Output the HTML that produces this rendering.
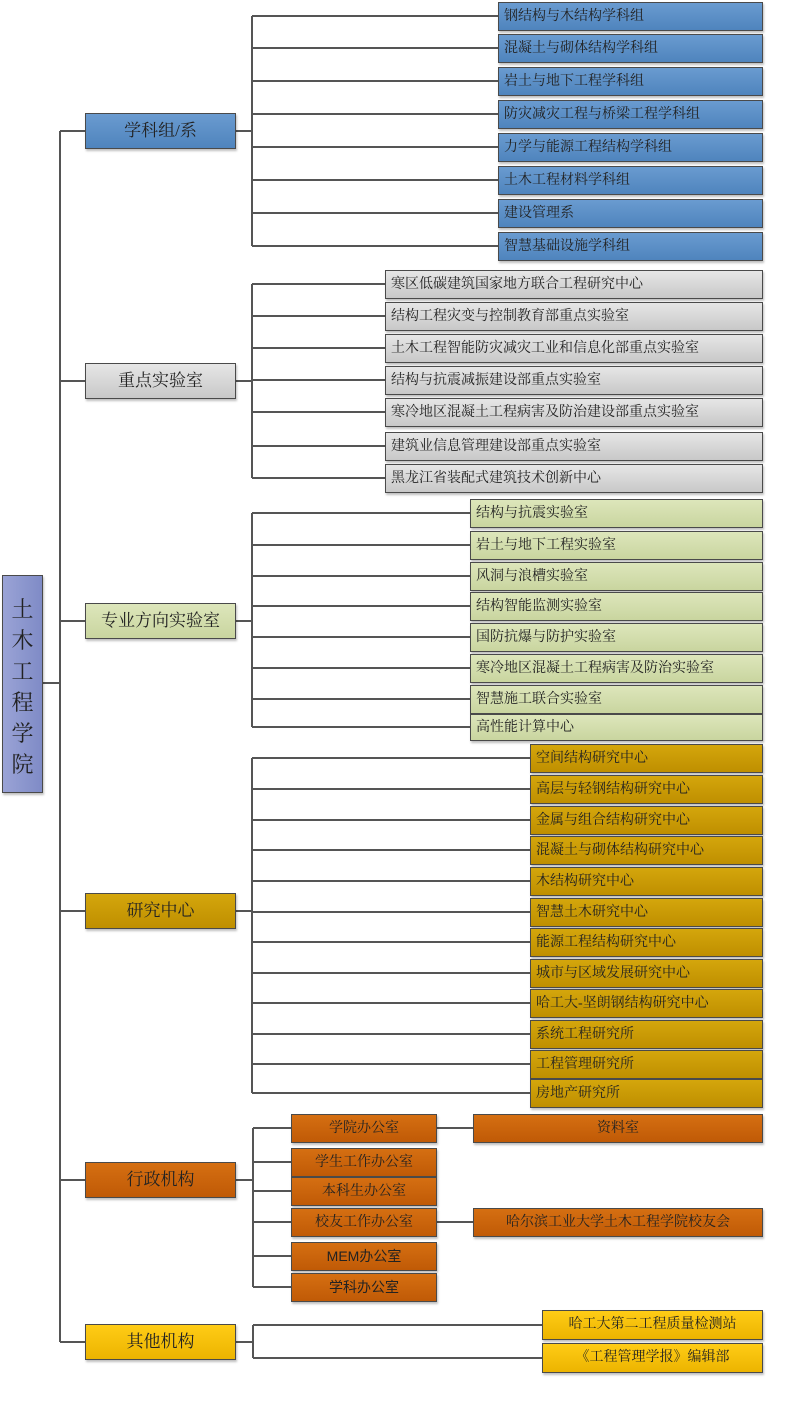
<!DOCTYPE html>
<html><head><meta charset="utf-8"><style>
body{margin:0;width:800px;height:1401px;background:#fff;position:relative;overflow:hidden;font-family:"Liberation Serif","Noto Serif CJK SC",serif;}
.b{position:absolute;box-sizing:border-box;border:1px solid #4a4a4a;box-shadow:1px 2px 2px rgba(0,0,0,.25);color:#222;white-space:nowrap;overflow:hidden;}
.c{font-size:14px;padding-left:5px;line-height:27px;height:29px;}
.L{font-size:17px;text-align:center;line-height:34px;height:36px;left:85px;width:151px;}
.blue{background:linear-gradient(#6a9bd0,#4f84bd);}
.gray{background:linear-gradient(#e6e6e6,#c8c8c8);}
.green{background:linear-gradient(#dde6bb,#c9d59f);}
.gold{background:linear-gradient(#d4a60c,#bf8f00);}
.org{background:linear-gradient(#d56f12,#c05a06);}
.yel{background:linear-gradient(#ffcc16,#ecb400);}
.ctr{text-align:center;padding-left:0;}
svg{position:absolute;left:0;top:0;}
</style></head><body>
<svg width="800" height="1401" stroke="#555" stroke-width="2" fill="none">
<path d="M42 683H60M60 131V1342M60 131H85M60 381H85M60 621H85M60 911H85M60 1180H85M60 1342H85"/>
<path d="M235 131H252M252 16V246M252 16H498M252 48H498M252 81H498M252 114H498M252 147H498M252 180H498M252 213H498M252 246H498"/>
<path d="M235 381H252M252 284V478M252 284H385M252 316H385M252 348H385M252 380H385M252 412H385M252 446H385M252 478H385"/>
<path d="M235 621H252M252 513V727M252 513H470M252 545H470M252 576H470M252 606H470M252 637H470M252 668H470M252 699H470M252 727H470"/>
<path d="M235 911H252M252 758V1093M252 758H530M252 789H530M252 820H530M252 850H530M252 881H530M252 912H530M252 942H530M252 973H530M252 1003H530M252 1034H530M252 1064H530M252 1093H530"/>
<path d="M235 1180H253M253 1128V1287M253 1128H291M253 1162H291M253 1191H291M253 1222H291M253 1256H291M253 1287H291M436 1128H473M436 1222H473"/>
<path d="M235 1342H253M253 1325V1358M253 1325H542M253 1358H542"/>
</svg>
<div class="b" style="left:2px;top:575px;width:41px;height:218px;background:linear-gradient(90deg,#9aa3d6,#7f8bc6);font-size:22px;line-height:31px;text-align:center;white-space:normal;padding-top:18px;">土<br>木<br>工<br>程<br>学<br>院</div>

<div class="b L blue" style="top:113px">学科组/系</div>
<div class="b L gray" style="top:363px">重点实验室</div>
<div class="b L green" style="top:603px">专业方向实验室</div>
<div class="b L gold" style="top:893px">研究中心</div>
<div class="b L org" style="top:1162px">行政机构</div>
<div class="b L yel" style="top:1324px">其他机构</div>

<div class="b c blue" style="left:498px;width:265px;top:2px">钢结构与木结构学科组</div>
<div class="b c blue" style="left:498px;width:265px;top:34px">混凝土与砌体结构学科组</div>
<div class="b c blue" style="left:498px;width:265px;top:67px">岩土与地下工程学科组</div>
<div class="b c blue" style="left:498px;width:265px;top:100px">防灾减灾工程与桥梁工程学科组</div>
<div class="b c blue" style="left:498px;width:265px;top:133px">力学与能源工程结构学科组</div>
<div class="b c blue" style="left:498px;width:265px;top:166px">土木工程材料学科组</div>
<div class="b c blue" style="left:498px;width:265px;top:199px">建设管理系</div>
<div class="b c blue" style="left:498px;width:265px;top:232px">智慧基础设施学科组</div>

<div class="b c gray" style="left:385px;width:378px;top:270px">寒区低碳建筑国家地方联合工程研究中心</div>
<div class="b c gray" style="left:385px;width:378px;top:302px">结构工程灾变与控制教育部重点实验室</div>
<div class="b c gray" style="left:385px;width:378px;top:334px">土木工程智能防灾减灾工业和信息化部重点实验室</div>
<div class="b c gray" style="left:385px;width:378px;top:366px">结构与抗震减振建设部重点实验室</div>
<div class="b c gray" style="left:385px;width:378px;top:398px">寒冷地区混凝土工程病害及防治建设部重点实验室</div>
<div class="b c gray" style="left:385px;width:378px;top:432px">建筑业信息管理建设部重点实验室</div>
<div class="b c gray" style="left:385px;width:378px;top:464px">黑龙江省装配式建筑技术创新中心</div>

<div class="b c green" style="left:470px;width:293px;top:499px">结构与抗震实验室</div>
<div class="b c green" style="left:470px;width:293px;top:531px">岩土与地下工程实验室</div>
<div class="b c green" style="left:470px;width:293px;top:562px">风洞与浪槽实验室</div>
<div class="b c green" style="left:470px;width:293px;top:592px">结构智能监测实验室</div>
<div class="b c green" style="left:470px;width:293px;top:623px">国防抗爆与防护实验室</div>
<div class="b c green" style="left:470px;width:293px;top:654px">寒冷地区混凝土工程病害及防治实验室</div>
<div class="b c green" style="left:470px;width:293px;top:685px">智慧施工联合实验室</div>
<div class="b c green" style="left:470px;width:293px;top:714px;height:27px;line-height:25px">高性能计算中心</div>

<div class="b c gold" style="left:530px;width:233px;top:744px">空间结构研究中心</div>
<div class="b c gold" style="left:530px;width:233px;top:775px">高层与轻钢结构研究中心</div>
<div class="b c gold" style="left:530px;width:233px;top:806px">金属与组合结构研究中心</div>
<div class="b c gold" style="left:530px;width:233px;top:836px">混凝土与砌体结构研究中心</div>
<div class="b c gold" style="left:530px;width:233px;top:867px">木结构研究中心</div>
<div class="b c gold" style="left:530px;width:233px;top:898px">智慧土木研究中心</div>
<div class="b c gold" style="left:530px;width:233px;top:928px">能源工程结构研究中心</div>
<div class="b c gold" style="left:530px;width:233px;top:959px">城市与区域发展研究中心</div>
<div class="b c gold" style="left:530px;width:233px;top:989px">哈工大-坚朗钢结构研究中心</div>
<div class="b c gold" style="left:530px;width:233px;top:1020px">系统工程研究所</div>
<div class="b c gold" style="left:530px;width:233px;top:1050px">工程管理研究所</div>
<div class="b c gold" style="left:530px;width:233px;top:1079px">房地产研究所</div>

<div class="b c org ctr" style="left:291px;width:146px;top:1114px">学院办公室</div>
<div class="b c org ctr" style="left:291px;width:146px;top:1148px">学生工作办公室</div>
<div class="b c org ctr" style="left:291px;width:146px;top:1177px">本科生办公室</div>
<div class="b c org ctr" style="left:291px;width:146px;top:1208px">校友工作办公室</div>
<div class="b c org ctr" style="left:291px;width:146px;top:1242px;font-family:'Liberation Sans','Noto Sans CJK SC',sans-serif">MEM办公室</div>
<div class="b c org ctr" style="left:291px;width:146px;top:1273px;font-family:'Liberation Sans','Noto Sans CJK SC',sans-serif">学科办公室</div>
<div class="b c org ctr" style="left:473px;width:290px;top:1114px">资料室</div>
<div class="b c org ctr" style="left:473px;width:290px;top:1208px">哈尔滨工业大学土木工程学院校友会</div>

<div class="b c yel ctr" style="left:542px;width:221px;top:1310px;height:30px;line-height:28px">哈工大第二工程质量检测站</div>
<div class="b c yel ctr" style="left:542px;width:221px;top:1343px;height:30px;line-height:28px">《工程管理学报》编辑部</div>
</body></html>
